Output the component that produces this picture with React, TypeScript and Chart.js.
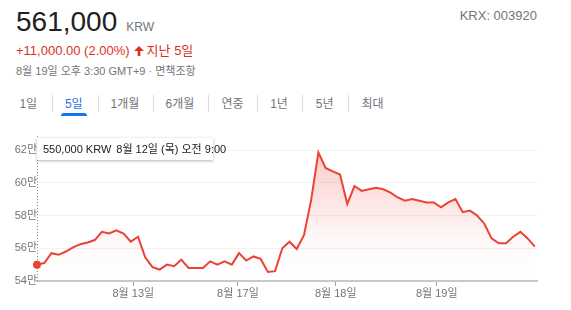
import React, { useEffect, useRef } from 'react';
import { Chart, registerables } from 'chart.js';
Chart.register(...registerables);

// price in 만 KRW, 30-minute steps over 5 trading days
const prices = [
  55.0, 55.1, 55.7, 55.6, 55.8, 56.05, 56.25, 56.35, 56.5, 57.0, 56.9, 57.1, 56.9, 56.4,
  56.7, 55.45, 54.85, 54.7, 55.0, 54.9, 55.3, 54.8, 54.8, 54.8, 55.2, 55.0, 55.2, 55.0,
  55.7, 55.25, 55.5, 55.35, 54.55, 54.6, 56.0, 56.4, 55.95, 56.8, 58.95, 61.85, 60.9, 60.7,
  60.5, 58.7, 59.8, 59.5, 59.6, 59.7, 59.6, 59.4, 59.1, 58.9, 59.0, 58.9, 58.8, 58.8,
  58.5, 58.8, 59.0, 58.2, 58.3, 58.0, 57.5, 56.6, 56.3, 56.3, 56.7, 57.0, 56.6, 56.1,
];
const dayTickPos = [13.35, 27.85, 41.4, 55.4];
const dayTickLabels = ['8월 13일', '8월 17일', '8월 18일', '8월 19일'];
const yTickValues = [54, 56, 58, 60, 62];
const tabLabels = ['1일', '5일', '1개월', '6개월', '연중', '1년', '5년', '최대'];

const FONT = "Arial, 'Liberation Sans', 'Noto Sans CJK KR', sans-serif";
const RED_LINE = '#ea4335';
const RED_TEXT = '#d93025';
const GRAY = '#70757a';

const tabCenters = [28.3, 73.8, 125, 180, 232.5, 279, 324.7, 372.5];
const tabSeps = [51.7, 97.7, 152.7, 207.7, 256.7, 302.3, 348.3];

export default function App() {
  const canvasRef = useRef<HTMLCanvasElement | null>(null);

  useEffect(() => {
    const canvas = canvasRef.current;
    if (!canvas) return;
    const crosshair = {
      id: 'crosshair',
      beforeDatasetsDraw(chart: any) {
        const c = chart.ctx;
        const x = Math.round(chart.scales.x.getPixelForValue(0)) + 0.5;
        c.save();
        c.strokeStyle = '#8a8a8a';
        c.lineWidth = 1;
        c.setLineDash([1, 2]);
        c.beginPath();
        c.moveTo(x, 6);
        c.lineTo(x, chart.chartArea.bottom);
        c.stroke();
        c.restore();
      },
    };
    const chart = new Chart(canvas, {
      type: 'line',
      data: {
        datasets: [
          {
            data: prices.map((v, i) => ({ x: i, y: v })),
            borderColor: RED_LINE,
            borderWidth: 2,
            tension: 0,
            clip: false,
            pointRadius: prices.map((_, i) => (i === 0 ? 4 : 0)),
            pointBackgroundColor: RED_LINE,
            pointBorderWidth: 0,
            fill: 'start',
            backgroundColor: (ctx: any) => {
              const { chart: ch } = ctx;
              const area = ch.chartArea;
              if (!area) return 'rgba(234,67,53,0.1)';
              const g = ch.ctx.createLinearGradient(0, area.top, 0, area.bottom);
              g.addColorStop(0, 'rgba(234,67,53,0.27)');
              g.addColorStop(0.7, 'rgba(234,67,53,0.03)');
              g.addColorStop(1, 'rgba(234,67,53,0)');
              return g;
            },
          } as any,
        ],
      },
      options: {
        animation: false,
        responsive: false,
        maintainAspectRatio: false,
        layout: { padding: { top: 20, right: 34, left: 0, bottom: 0 } },
        plugins: { legend: { display: false }, tooltip: { enabled: false } },
        scales: {
          x: {
            type: 'linear',
            min: 0,
            max: 69.3,
            afterBuildTicks: (s: any) => {
              s.ticks = dayTickPos.map((v) => ({ value: v }));
            },
            afterFit: (s: any) => {
              s.height = 29;
            },
            ticks: {
              callback: (v: any) => dayTickLabels[dayTickPos.indexOf(v)],
              color: GRAY,
              font: { size: 11, family: FONT },
              padding: 1,
              autoSkip: false,
              maxRotation: 0,
            },
            grid: { drawOnChartArea: false, drawTicks: true, tickLength: 5, color: '#9e9e9e', lineWidth: 1 },
            border: { display: true, color: '#c8c8c8', width: 2 },
          },
          y: {
            min: 54,
            max: 62,
            afterBuildTicks: (s: any) => {
              s.ticks = yTickValues.map((v) => ({ value: v }));
            },
            afterFit: (s: any) => {
              s.width = 37;
            },
            ticks: {
              callback: (v: any) => v + '만',
              color: GRAY,
              font: { size: 11, family: FONT },
              padding: 0,
            },
            grid: {
              color: (c: any) => (c.tick && c.tick.value === 54 ? 'rgba(0,0,0,0)' : '#f1f1f1'),
              drawTicks: false,
              lineWidth: 1,
            },
            border: { display: false },
          },
        },
      } as any,
      plugins: [crosshair],
    });
    return () => chart.destroy();
  }, []);

  const abs = (o: React.CSSProperties): React.CSSProperties => ({ position: 'absolute', whiteSpace: 'nowrap', ...o });

  return (
    <div style={{ position: 'fixed', left: 0, top: 0, width: 571, height: 310, background: '#fff', fontFamily: FONT, overflow: 'hidden' }}>
      <div style={abs({ left: 16, top: 8, fontSize: 28, lineHeight: '28px', color: '#202124' })}>
        561,000
        <span style={{ fontSize: 12, color: GRAY, marginLeft: 9 }}>KRW</span>
      </div>
      <div style={abs({ right: 34, top: 7.5, fontSize: 13, lineHeight: '16px', color: GRAY })}>KRX: 003920</div>
      <div style={abs({ left: 16, top: 42.5, fontSize: 13, lineHeight: '16px', color: RED_TEXT })}>
        +11,000.00 (2.00%)
        <svg width="10" height="10" viewBox="0 0 10 10" style={{ marginLeft: 4, marginRight: 3, verticalAlign: '-1px' }}>
          <path d="M5 0 L10 5 L6.3 5 L6.3 10 L3.7 10 L3.7 5 L0 5 Z" fill={RED_TEXT} />
        </svg>
        지난 5일
      </div>
      <div style={abs({ left: 16, top: 63.5, fontSize: 11, lineHeight: '14px', color: GRAY })}>
        8월 19일 오후 3:30 GMT+9 · 면책조항
      </div>

      {tabLabels.map((t, i) => (
        <div
          key={t}
          style={abs({
            left: tabCenters[i],
            top: 95.5,
            transform: 'translateX(-50%)',
            fontSize: 12,
            lineHeight: '16px',
            color: i === 1 ? '#1a73e8' : GRAY,
          })}
        >
          {t}
        </div>
      ))}
      {tabSeps.map((x, i) => (
        <div key={i} style={abs({ left: x, top: 95, width: 1, height: 17, background: '#dadce0' })} />
      ))}
      <div style={abs({ left: 61, top: 113, width: 26, height: 3, background: '#1a73e8', borderRadius: '3px 3px 0 0' })} />

      <canvas ref={canvasRef} width={571} height={180} style={abs({ left: 0, top: 130, width: 571, height: 180, display: 'block' })} />

      <div
        style={abs({
          left: 37,
          top: 138,
          width: 176,
          height: 22,
          background: '#fff',
          boxShadow: '0 1px 3px rgba(0,0,0,0.3)',
          fontSize: 11,
          lineHeight: '22px',
          color: '#202124',
          paddingLeft: 6,
          boxSizing: 'border-box',
        })}
      >
        <span>550,000 KRW</span>
        <span style={{ marginLeft: 5 }}>8월 12일 (목) 오전 9:00</span>
      </div>
    </div>
  );
}
